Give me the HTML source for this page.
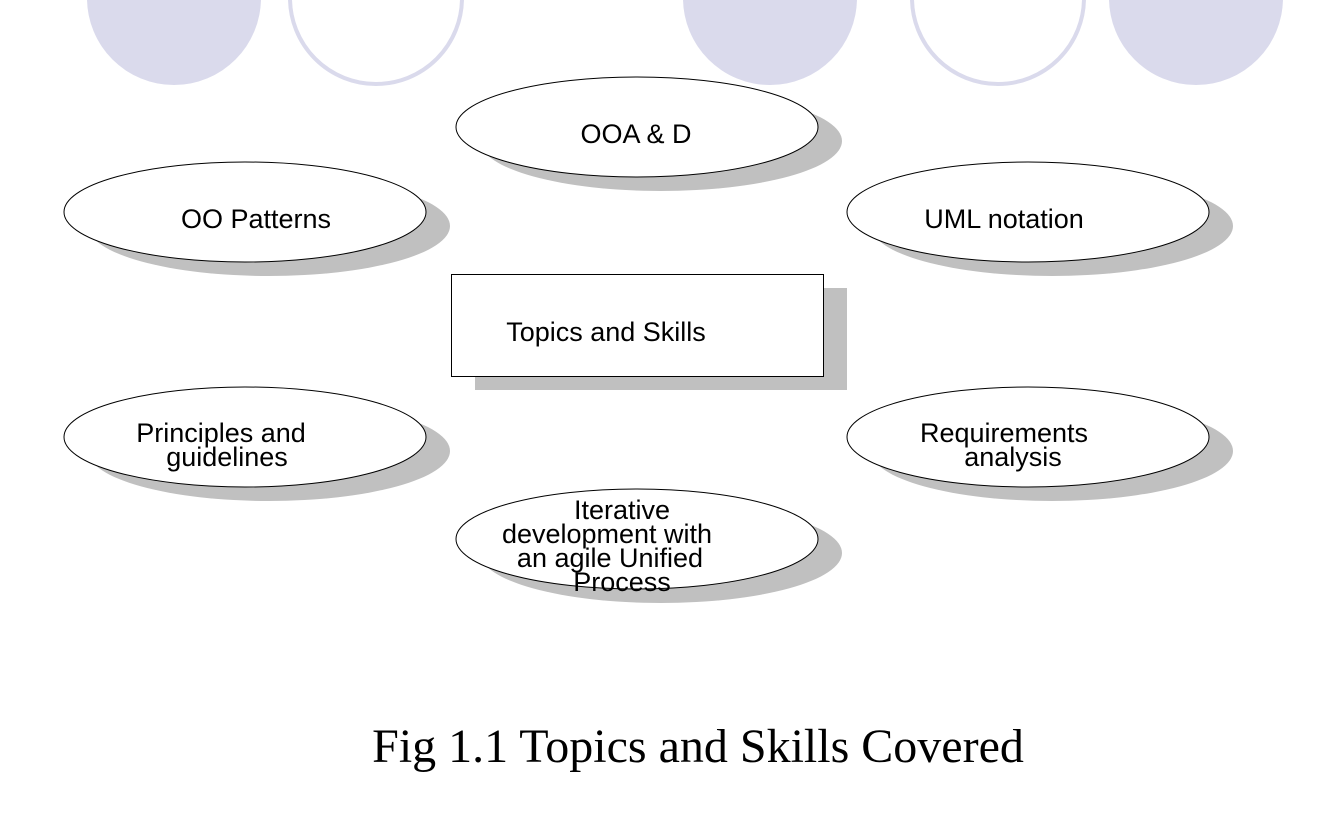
<!DOCTYPE html>
<html><head><meta charset="utf-8"><style>
html,body{margin:0;padding:0;background:#fff;}
svg{display:block;}
.t{font-family:"Liberation Sans",sans-serif;font-size:27px;fill:#000;text-anchor:middle;}
</style></head><body>
<svg width="1330" height="822" viewBox="0 0 1330 822" xmlns="http://www.w3.org/2000/svg">
<circle cx="174" cy="-2" r="87" fill="#dadaec"/>
<circle cx="376" cy="-2" r="86" fill="#fff" stroke="#dadaec" stroke-width="4"/>
<circle cx="770" cy="-2" r="87" fill="#dadaec"/>
<circle cx="998" cy="-2" r="86" fill="#fff" stroke="#dadaec" stroke-width="4"/>
<circle cx="1196" cy="-2" r="87" fill="#dadaec"/>

<g fill="#c0c0c0">
<ellipse cx="661" cy="141" rx="181" ry="50"/>
<ellipse cx="269" cy="226" rx="181" ry="50"/>
<ellipse cx="1052" cy="226" rx="181" ry="50"/>
<ellipse cx="269" cy="451" rx="181" ry="50"/>
<ellipse cx="1052" cy="451" rx="181" ry="50"/>
<ellipse cx="661" cy="553" rx="181" ry="50"/>
<rect x="475" y="288" width="372" height="102"/>
</g>
<g fill="#fff" stroke="#000" stroke-width="1">
<ellipse cx="637" cy="127" rx="181" ry="50"/>
<ellipse cx="245" cy="212" rx="181" ry="50"/>
<ellipse cx="1028" cy="212" rx="181" ry="50"/>
<ellipse cx="245" cy="437" rx="181" ry="50"/>
<ellipse cx="1028" cy="437" rx="181" ry="50"/>
<ellipse cx="637" cy="539" rx="181" ry="50"/>
<rect x="451.5" y="274.5" width="372" height="102"/>
</g>
<text class="t" x="636" y="143">OOA &amp; D</text>
<text class="t" x="256" y="228">OO Patterns</text>
<text class="t" x="1004" y="228">UML notation</text>
<text class="t" x="606" y="341">Topics and Skills</text>
<text class="t" x="221" y="442">Principles and</text>
<text class="t" x="227" y="466">guidelines</text>
<text class="t" x="1004" y="442">Requirements</text>
<text class="t" x="1013" y="466">analysis</text>
<text class="t" x="622" y="519">Iterative</text>
<text class="t" x="607" y="543">development with</text>
<text class="t" x="610" y="567">an agile Unified</text>
<text class="t" x="622" y="591">Process</text>
<text x="698" y="762" style="font-family:'Liberation Serif',serif;font-size:48px;text-anchor:middle;">Fig 1.1 Topics and Skills Covered</text>
</svg>
</body></html>
